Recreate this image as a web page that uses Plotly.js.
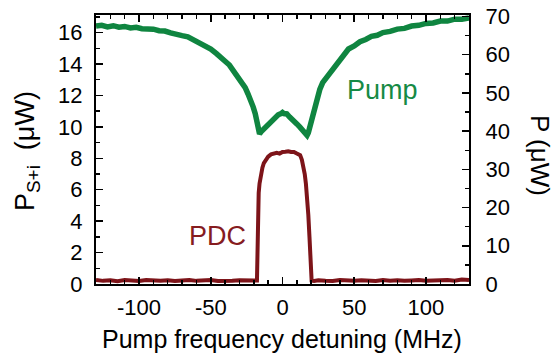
<!DOCTYPE html>
<html>
<head>
<meta charset="utf-8">
<script src="https://cdn.plot.ly/plotly-3.0.1.min.js"></script>
<style>html,body{margin:0;padding:0;background:#fff;}#chart{width:555px;height:354px;}</style>
</head>
<body>
<div id="chart"></div>
<script>
// Pump transmitted power (right axis, μW) vs detuning (MHz)
const pumpX = [-130,-126,-122,-118,-114,-110,-106,-102,-98,-94,-90,-86,-82,-78,-74,-70,-66,-62,-58,-54,-50,-46,-43,-40,-37,-34,-31,-28,-26,-24,-22,-20.4,-19,-18.3,-17,-16,-15,-13,-11,-9,-7,-5,-3,-1,0,1,3,5,7.8,10,12,14,15.5,17.1,18,19,20.6,22,24,26,28,30,33,36,40,43,46,50,54,58,62,66,70,75,80,85,90,95,100,105,110,115,120,125,130];
const pumpY = [67.5,67.7,67.3,67.6,67.2,67.4,67.0,67.2,66.8,66.9,66.7,66.3,66.2,65.7,65.5,65.0,64.7,63.9,63.4,62.3,61.5,60.3,59.5,58.3,57.3,55.7,54.3,52.6,51.4,49.7,48.1,46.3,44.6,42.8,40.6,39.3,39.8,40.6,41.6,42.0,43.0,43.5,44.3,44.6,44.9,44.6,44.5,43.7,42.9,41.9,41.1,40.0,39.5,38.9,39.6,41.0,43.7,46.5,49.1,50.9,52.7,53.7,55.4,56.7,59.0,60.2,61.5,62.3,63.4,64.0,64.8,65.1,65.8,66.1,66.7,66.9,67.5,67.7,68.2,68.3,68.8,68.8,69.3,69.3,69.6];

// PDC power (left axis, μW) vs detuning (MHz)
const pdcX = [-130,-125,-120,-115,-110,-105,-100,-95,-90,-85,-80,-75,-70,-65,-60,-55,-50,-45,-40,-35,-30,-25,-20,-17.8,-17.5,-17.2,-16.6,-16,-15,-14,-13,-11.5,-10,-8,-6.5,-4,-2,0,2,4,6,8,10,12.3,13.5,14.5,15.5,16.3,17.2,18,18.8,19.3,19.8,20.3,22,25,30,35,40,45,50,55,60,65,70,75,80,85,90,95,100,105,110,115,120,125,130];
const pdcY = [0.26,0.2,0.24,0.18,0.25,0.21,0.19,0.26,0.22,0.2,0.24,0.19,0.23,0.26,0.2,0.22,0.25,0.19,0.23,0.21,0.24,0.2,0.22,0.22,2.5,4.6,5.8,6.4,7.0,7.4,7.7,7.95,8.1,8.25,8.3,8.35,8.3,8.4,8.42,8.45,8.4,8.4,8.3,8.2,7.9,7.5,7.0,6.4,5.5,4.4,3.0,1.6,0.8,0.22,0.2,0.24,0.21,0.19,0.25,0.22,0.2,0.24,0.23,0.19,0.26,0.21,0.24,0.2,0.23,0.25,0.2,0.24,0.22,0.26,0.21,0.28,0.25];

const xTicks = [-100,-50,0,50,100];
const yLeftTicks = [0,2,4,6,8,10,12,14,16];
const yRightTicks = [0,10,20,30,40,50,60,70];

const FONT = '"Liberation Sans", Arial, Helvetica, sans-serif';
const green = '#0f8540';
const red = '#7d1419';

const pL = 96, pR = 469, pT = 15, pB = 284, W = 555, H = 354;
const px2x = p => (p - pL) / (pR - pL);
const py2y = p => (pB - p) / (pB - pT);

const traces = [
  {x: pumpX, y: pumpY, yaxis: 'y2', type: 'scatter', mode: 'lines',
   line: {color: green, width: 5.5}, hoverinfo: 'skip'},
  {x: pdcX, y: pdcY, yaxis: 'y', type: 'scatter', mode: 'lines',
   line: {color: red, width: 4}, hoverinfo: 'skip'}
];

const axisCommon = {
  showgrid: false, zeroline: false, showline: true, linecolor: '#000', linewidth: 2,
  ticks: 'inside', ticklen: 7, tickwidth: 1.5, tickcolor: '#000',
  tickfont: {family: FONT, size: 22, color: '#000'}
};

const layout = {
  width: W, height: H,
  margin: {l: pL, r: W - pR, t: pT, b: H - pB, pad: 0},
  paper_bgcolor: '#fff', plot_bgcolor: '#fff',
  showlegend: false,
  font: {family: FONT, color: '#000'},
  xaxis: Object.assign({}, axisCommon, {
    range: [-130, 130], tickmode: 'array', tickvals: xTicks, ticktext: xTicks.map(String),
    mirror: 'ticks', ticklabelstandoff: 3,
    minor: {dtick: 10, tick0: 0, ticks: 'inside', ticklen: 4, tickwidth: 1.5, tickcolor: '#000'}
  }),
  yaxis: Object.assign({}, axisCommon, {
    range: [0, 17.12], tickmode: 'array', tickvals: yLeftTicks, ticktext: yLeftTicks.map(String),
    side: 'left', mirror: false, ticklabelstandoff: 7,
    minor: {dtick: 1, tick0: 0, ticks: 'inside', ticklen: 4, tickwidth: 1.5, tickcolor: '#000'}
  }),
  yaxis2: Object.assign({}, axisCommon, {
    range: [0, 70.4], tickmode: 'array', tickvals: yRightTicks, ticktext: yRightTicks.map(String),
    side: 'right', overlaying: 'y', ticklabelstandoff: 10,
    minor: {dtick: 5, tick0: 0, ticks: 'inside', ticklen: 4, tickwidth: 1.5, tickcolor: '#000'}
  }),
  annotations: [
    {text: 'Pump frequency detuning (MHz)', xref: 'paper', yref: 'paper',
     x: px2x(282), y: py2y(339), xanchor: 'center', yanchor: 'middle', showarrow: false,
     font: {family: FONT, size: 25, color: '#000'}},
    {text: 'P<sub>S+i</sub>  (μW)', xref: 'paper', yref: 'paper', textangle: -90,
     x: px2x(27), y: py2y(151), xanchor: 'center', yanchor: 'middle', showarrow: false,
     font: {family: FONT, size: 27, color: '#000'}},
    {text: 'P (μW)', xref: 'paper', yref: 'paper', textangle: 90,
     x: px2x(540), y: py2y(155), xanchor: 'center', yanchor: 'middle', showarrow: false,
     font: {family: FONT, size: 26, color: '#000'}},
    {text: 'Pump', xref: 'paper', yref: 'paper',
     x: px2x(382), y: py2y(90), xanchor: 'center', yanchor: 'middle', showarrow: false,
     font: {family: FONT, size: 27, color: '#168a45'}},
    {text: 'PDC', xref: 'paper', yref: 'paper',
     x: px2x(217.5), y: py2y(236), xanchor: 'center', yanchor: 'middle', showarrow: false,
     font: {family: FONT, size: 27, color: '#861c1f'}}
  ]
};

Plotly.newPlot('chart', traces, layout, {staticPlot: true, displayModeBar: false});
</script>
</body>
</html>
